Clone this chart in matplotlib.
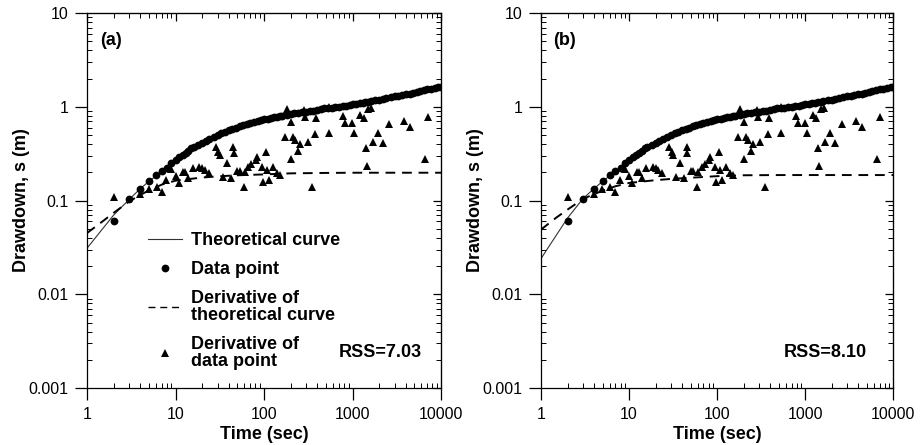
import matplotlib
matplotlib.use("Agg")
import matplotlib.pyplot as plt
from matplotlib.ticker import FixedLocator, FixedFormatter, NullFormatter, LogLocator
from matplotlib.lines import Line2D

plt.rcParams['font.family'] = ['Liberation Sans Narrow', 'Liberation Sans', 'DejaVu Sans']

# ---------------- data ----------------
x_ticks = [1, 10, 100, 1000, 10000]
x_tick_labels = ["1", "10", "100", "1000", "10000"]
y_ticks = [0.001, 0.01, 0.1, 1, 10]
y_tick_labels = ["0.001", "0.01", "0.1", "1", "10"]

# observed drawdown (same in both panels)
data_t = [2, 3, 4, 5, 6, 7, 8, 9,
          10, 11, 12, 13, 14, 15, 16, 18, 20, 22, 24, 27, 30, 33, 36, 40, 44, 48, 53, 58, 64, 70, 77, 85, 93,
          100, 110, 120, 130, 140, 150, 160, 180, 200, 220, 240, 270, 300, 330, 360, 400, 440, 480, 530, 580,
          640, 700, 770, 850, 930,
          1000, 1100, 1200, 1300, 1400, 1500, 1600, 1800, 2000, 2200, 2400, 2700, 3000, 3300, 3600, 4000,
          4400, 4800, 5300, 5800, 6400, 7000, 7700, 8500, 9300, 10000]
data_s = [0.061, 0.104, 0.134, 0.163, 0.186, 0.209, 0.222, 0.25,
          0.27, 0.29, 0.305, 0.325, 0.34, 0.36, 0.375, 0.395, 0.415, 0.435, 0.455, 0.48, 0.50, 0.52, 0.545,
          0.565, 0.585, 0.60, 0.62, 0.635, 0.655, 0.675, 0.69, 0.71, 0.725,
          0.735, 0.75, 0.76, 0.77, 0.78, 0.79, 0.80, 0.82, 0.84, 0.855, 0.865, 0.88, 0.89, 0.90, 0.91, 0.93,
          0.94, 0.96, 0.97, 0.98, 0.99, 1.00, 1.02, 1.03, 1.05,
          1.06, 1.08, 1.10, 1.11, 1.12, 1.13, 1.14, 1.17, 1.19, 1.21, 1.23, 1.26, 1.29, 1.31, 1.33, 1.36,
          1.38, 1.41, 1.44, 1.47, 1.50, 1.53, 1.56, 1.59, 1.61, 1.63]

# derivative of observed drawdown (same in both panels)
deriv_t = [2.0, 3.95, 4.95, 6.1, 7.0, 7.9, 8.9, 10, 10.9, 12.2, 12.9, 13.9, 15.6, 18.5, 20, 21.5, 23.9,
           28.6, 30.4, 31.8, 34, 37.8, 42, 45, 46, 50, 53.5, 59, 61, 66.5, 72, 80.5, 84, 94, 98, 104, 107,
           115, 125, 139, 152, 173, 180, 200, 202, 215, 226, 241, 256, 284, 291, 310, 352, 378, 384, 535,
           535, 790, 826, 991, 1044, 1221, 1333, 1415, 1453, 1493, 1614, 1698, 1936, 2187, 2602, 3776,
           4418, 6535, 7125]
deriv_s = [0.110, 0.118, 0.132, 0.139, 0.122, 0.166, 0.216, 0.183, 0.155, 0.204, 0.204, 0.173, 0.221,
           0.230, 0.221, 0.212, 0.199, 0.375, 0.332, 0.303, 0.177, 0.250, 0.173, 0.375, 0.324, 0.209,
           0.209, 0.141, 0.204, 0.230, 0.245, 0.271, 0.294, 0.230, 0.159, 0.332, 0.212, 0.166, 0.230,
           0.199, 0.188, 0.472, 0.937, 0.692, 0.278, 0.480, 0.442, 0.340, 0.401, 0.922, 0.770, 0.424,
           0.138, 0.512, 0.751, 0.520, 1.00, 0.796, 0.676, 0.665, 0.520, 0.815, 0.751, 0.366, 0.236,
           0.937, 0.96, 0.424, 0.520, 0.407, 0.649, 0.710, 0.603, 0.278, 0.770]

# theoretical curves
theo_t = [1, 1.5, 2, 3, 4, 5, 7, 10, 20, 30, 50, 100, 200, 500, 1000, 2000, 5000, 10000]
theo_s_a = [0.031, 0.050, 0.070, 0.103, 0.134, 0.160, 0.205, 0.265, 0.41, 0.50, 0.61, 0.735, 0.84,
            0.97, 1.06, 1.19, 1.42, 1.62]
theo_s_b = [0.024, 0.043, 0.065, 0.105, 0.134, 0.160, 0.205, 0.265, 0.41, 0.50, 0.61, 0.735, 0.84,
            0.97, 1.06, 1.19, 1.42, 1.62]
theo_d_a = [0.045, 0.060, 0.074, 0.098, 0.115, 0.128, 0.148, 0.163, 0.176, 0.181, 0.186, 0.190, 0.195,
            0.197, 0.198, 0.198, 0.198, 0.198]
theo_d_b = [0.049, 0.066, 0.080, 0.104, 0.117, 0.127, 0.142, 0.154, 0.165, 0.170, 0.175, 0.182, 0.186,
            0.187, 0.187, 0.187, 0.187, 0.187]

panel_labels = ["(a)", "(b)"]
rss_labels = ["RSS=7.03", "RSS=8.10"]
legend_labels = ["Theoretical curve", "Data point", "Derivative of\ntheoretical curve",
                 "Derivative of\ndata point"]

# ---------------- figure ----------------
fig = plt.figure(figsize=(9.21, 4.45), dpi=100)
axes_rects = [[0.0945, 0.128, 0.3844, 0.8427], [0.5874, 0.128, 0.3825, 0.8427]]
rss_x = [0.946, 0.926]

for i in range(2):
    ax = fig.add_axes(axes_rects[i])
    theo_s = theo_s_a if i == 0 else theo_s_b
    theo_d = theo_d_a if i == 0 else theo_d_b
    ax.set_xscale('log')
    ax.set_yscale('log')
    ax.plot(theo_t, theo_s, color='#333333', lw=0.8, zorder=2)
    ax.plot(data_t, data_s, 'o', color='black', ms=5.6, mew=0, zorder=3)
    ax.plot(theo_t, theo_d, color='black', lw=1.4, ls=(0, (5, 3.5)), zorder=2)
    ax.plot(deriv_t, deriv_s, '^', color='black', ms=6.3, mew=0, zorder=4)
    ax.set_xlim(1, 10000)
    ax.set_ylim(0.001, 10)

    ax.xaxis.set_major_locator(FixedLocator(x_ticks))
    ax.xaxis.set_major_formatter(FixedFormatter(x_tick_labels))
    ax.yaxis.set_major_locator(FixedLocator(y_ticks))
    ax.yaxis.set_major_formatter(FixedFormatter(y_tick_labels))
    ax.xaxis.set_minor_locator(LogLocator(base=10, subs=range(2, 10), numticks=20))
    ax.yaxis.set_minor_locator(LogLocator(base=10, subs=range(2, 10), numticks=20))
    ax.xaxis.set_minor_formatter(NullFormatter())
    ax.yaxis.set_minor_formatter(NullFormatter())
    ax.tick_params(which='major', direction='out', length=8.5, width=0.9, labelsize=11.5,
                   top=False, right=False, pad=5)
    ax.tick_params(which='minor', direction='in', length=3.5, width=0.7, top=False, right=False)
    for sp in ax.spines.values():
        sp.set_linewidth(0.9)

    secx = ax.secondary_xaxis('top')
    secx.xaxis.set_major_locator(FixedLocator(x_ticks))
    secx.xaxis.set_minor_locator(LogLocator(base=10, subs=range(2, 10), numticks=20))
    secx.xaxis.set_major_formatter(NullFormatter())
    secx.xaxis.set_minor_formatter(NullFormatter())
    secx.tick_params(which='major', direction='in', length=6, width=0.9)
    secx.tick_params(which='minor', direction='in', length=3.5, width=0.7)
    secy = ax.secondary_yaxis('right')
    secy.yaxis.set_major_locator(FixedLocator(y_ticks))
    secy.yaxis.set_minor_locator(LogLocator(base=10, subs=range(2, 10), numticks=20))
    secy.yaxis.set_major_formatter(NullFormatter())
    secy.yaxis.set_minor_formatter(NullFormatter())
    secy.tick_params(which='major', direction='in', length=6, width=0.9)
    secy.tick_params(which='minor', direction='in', length=3.5, width=0.7)

    ax.set_xlabel("Time (sec)", fontsize=13, fontweight='bold', labelpad=3)
    ax.set_ylabel("Drawdown, s (m)", fontsize=13, fontweight='bold', labelpad=-1)

    ax.text(0.068, 0.928, panel_labels[i], transform=ax.transAxes, fontsize=13,
            fontweight='bold', ha='center', va='center')
    ax.text(rss_x[i], 0.096, rss_labels[i], transform=ax.transAxes, fontsize=13,
            fontweight='bold', ha='right', va='center')

    if i == 0:
        handles = [
            Line2D([], [], color='#333333', lw=0.8),
            Line2D([], [], marker='o', ls='none', color='black', ms=5.6, mew=0),
            Line2D([], [], color='black', lw=1.0, ls=(0, (5, 3.5))),
            Line2D([], [], marker='^', ls='none', color='black', ms=5.5, mew=0),
        ]
        leg = ax.legend(handles, legend_labels, loc='upper left', bbox_to_anchor=(0.172, 0.415),
                        frameon=False, borderpad=0, borderaxespad=0, handlelength=1.9,
                        handletextpad=0.5, labelspacing=0.66, numpoints=1,
                        prop={'size': 13, 'weight': 'bold'})
        for t in leg.get_texts():
            t.set_linespacing(1.0)

fig.savefig("out.png", dpi=100)
